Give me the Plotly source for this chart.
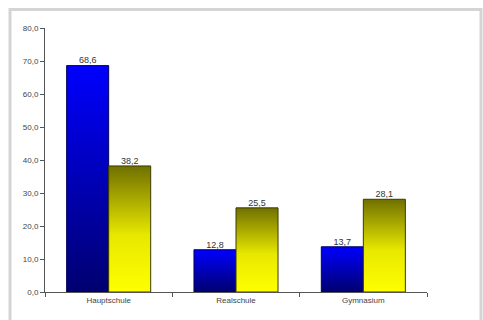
import plotly.graph_objects as go

categories = ["Hauptschule", "Realschule", "Gymnasium"]
series_a = [68.6, 12.8, 13.7]
series_b = [38.2, 25.5, 28.1]
y_ticks = [0, 10, 20, 30, 40, 50, 60, 70, 80]

W, H = 483, 320
L, R, T, B = 45, 56, 28, 28
pw, ph = W - L - R, H - T - B

bw = 0.33
fig = go.Figure()

def add_bar(xc0, xc1, val, cs, line_color):
    fig.add_trace(go.Scatter(
        x=[xc0, xc1, xc1, xc0, xc0], y=[0, 0, val, val, 0],
        mode="lines", fill="toself",
        line=dict(color=line_color, width=1),
        fillgradient=dict(type="vertical", colorscale=cs),
        hoverinfo="skip", showlegend=False))

blue_cs = [[0, "#000070"], [1, "#0000ff"]]
yel_cs = [[0, "#ffff00"], [0.45, "#e8e800"], [1, "#707000"]]
for i, (a, b) in enumerate(zip(series_a, series_b)):
    add_bar(i - bw, i, a, blue_cs, "#000060")
    add_bar(i, i + bw, b, yel_cs, "#3a3a00")

xs = [i - bw / 2 for i in range(len(categories))] + [i + bw / 2 for i in range(len(categories))]
ys = series_a + series_b
fig.add_trace(go.Scatter(
    x=xs, y=ys, mode="text", texttemplate="%{y:.1f}",
    textposition="top center",
    textfont=dict(family="Arial, Liberation Sans", size=9, color="#333333"),
    hoverinfo="skip", showlegend=False, cliponaxis=False))

fig.add_shape(type="rect", xref="paper", yref="paper",
              x0=(10 - L) / pw, x1=(481 - L) / pw,
              y0=(H - 324 - B) / ph, y1=(H - 9.5 - B) / ph,
              line=dict(color="#d4d4d4", width=3), layer="below")

fig.update_layout(
    width=W, height=H, margin=dict(l=L, r=R, t=T, b=B),
    paper_bgcolor="white", plot_bgcolor="white",
    separators=",.",
    font=dict(family="Arial, Liberation Sans", size=8, color="#444444"),
    xaxis=dict(range=[-0.5, 2.5], tickvals=list(range(len(categories))),
               ticktext=categories, ticks="", showgrid=False, zeroline=False,
               showline=True, linecolor="#555555", linewidth=1,
               minor=dict(tickvals=[-0.5, 0.5, 1.5, 2.5], ticks="outside",
                          ticklen=4, tickcolor="#555555", showgrid=False),
               tickfont=dict(size=8, color="#444444")),
    yaxis=dict(range=[0, 80], tickvals=y_ticks, tickformat=".1f",
               ticks="outside", ticklen=4, tickcolor="#555555",
               showgrid=False, zeroline=False, showline=True,
               linecolor="#555555", linewidth=1,
               tickfont=dict(size=8, color="#444444")),
)

fig.write_html("out.html")
